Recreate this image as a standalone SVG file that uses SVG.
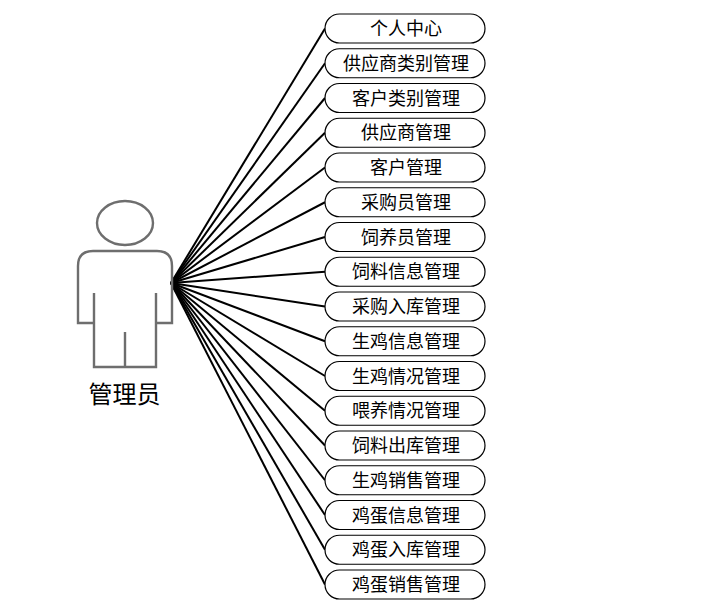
<svg xmlns="http://www.w3.org/2000/svg" width="704" height="610" viewBox="0 0 704 610">
<style>
.n rect{fill:#fff;stroke:#000;stroke-width:1.2}
text{font-family:"Noto Sans CJK SC","Liberation Sans",sans-serif;fill:#000;text-anchor:middle}
.n text{font-size:18px}
#connectors line{stroke:#000;stroke-width:2}
.a{fill:none;stroke:#6e6e6e;stroke-width:2.4}
</style>
<rect width="704" height="610" fill="#fff"/>
<g id="connectors">
<line x1="171" y1="283" x2="325" y2="28.5"/>
<line x1="171" y1="283" x2="325" y2="63.25"/>
<line x1="171" y1="283" x2="325" y2="98"/>
<line x1="171" y1="283" x2="325" y2="132.75"/>
<line x1="171" y1="283" x2="325" y2="167.5"/>
<line x1="171" y1="283" x2="325" y2="202.25"/>
<line x1="171" y1="283" x2="325" y2="237"/>
<line x1="171" y1="283" x2="325" y2="271.75"/>
<line x1="171" y1="283" x2="325" y2="306.5"/>
<line x1="171" y1="283" x2="325" y2="341.25"/>
<line x1="171" y1="283" x2="325" y2="376"/>
<line x1="171" y1="283" x2="325" y2="410.75"/>
<line x1="171" y1="283" x2="325" y2="445.5"/>
<line x1="171" y1="283" x2="325" y2="480.25"/>
<line x1="171" y1="283" x2="325" y2="515"/>
<line x1="171" y1="283" x2="325" y2="549.75"/>
<line x1="171" y1="283" x2="325" y2="584.5"/>
</g>
<g id="actor">
<ellipse class="a" cx="125" cy="223" rx="28" ry="22"/>
<path class="a" d="M94 323H78V266Q78 251 93 251H157Q172 251 172 266V323H156M94 293V367H156V293M125 332V367"/>
<text x="124.500" y="403" font-size="24">管理员</text>
</g>
<g id="n1" class="n"><rect x="325" y="14" width="160" height="29" rx="14.5"/><text x="406" y="35">个人中心</text></g>
<g id="n2" class="n"><rect x="325" y="48.75" width="160" height="29" rx="14.5"/><text x="406" y="69.75">供应商类别管理</text></g>
<g id="n3" class="n"><rect x="325" y="83.5" width="160" height="29" rx="14.5"/><text x="406" y="104.5">客户类别管理</text></g>
<g id="n4" class="n"><rect x="325" y="118.25" width="160" height="29" rx="14.5"/><text x="406" y="139.25">供应商管理</text></g>
<g id="n5" class="n"><rect x="325" y="153" width="160" height="29" rx="14.5"/><text x="406" y="174">客户管理</text></g>
<g id="n6" class="n"><rect x="325" y="187.75" width="160" height="29" rx="14.5"/><text x="406" y="208.75">采购员管理</text></g>
<g id="n7" class="n"><rect x="325" y="222.5" width="160" height="29" rx="14.5"/><text x="406" y="243.5">饲养员管理</text></g>
<g id="n8" class="n"><rect x="325" y="257.25" width="160" height="29" rx="14.5"/><text x="406" y="278.25">饲料信息管理</text></g>
<g id="n9" class="n"><rect x="325" y="292" width="160" height="29" rx="14.5"/><text x="406" y="313">采购入库管理</text></g>
<g id="n10" class="n"><rect x="325" y="326.75" width="160" height="29" rx="14.5"/><text x="406" y="347.75">生鸡信息管理</text></g>
<g id="n11" class="n"><rect x="325" y="361.5" width="160" height="29" rx="14.5"/><text x="406" y="382.5">生鸡情况管理</text></g>
<g id="n12" class="n"><rect x="325" y="396.25" width="160" height="29" rx="14.5"/><text x="406" y="417.25">喂养情况管理</text></g>
<g id="n13" class="n"><rect x="325" y="431" width="160" height="29" rx="14.5"/><text x="406" y="452">饲料出库管理</text></g>
<g id="n14" class="n"><rect x="325" y="465.75" width="160" height="29" rx="14.5"/><text x="406" y="486.75">生鸡销售管理</text></g>
<g id="n15" class="n"><rect x="325" y="500.5" width="160" height="29" rx="14.5"/><text x="406" y="521.5">鸡蛋信息管理</text></g>
<g id="n16" class="n"><rect x="325" y="535.25" width="160" height="29" rx="14.5"/><text x="406" y="556.25">鸡蛋入库管理</text></g>
<g id="n17" class="n"><rect x="325" y="570" width="160" height="29" rx="14.5"/><text x="406" y="591">鸡蛋销售管理</text></g>
</svg>
